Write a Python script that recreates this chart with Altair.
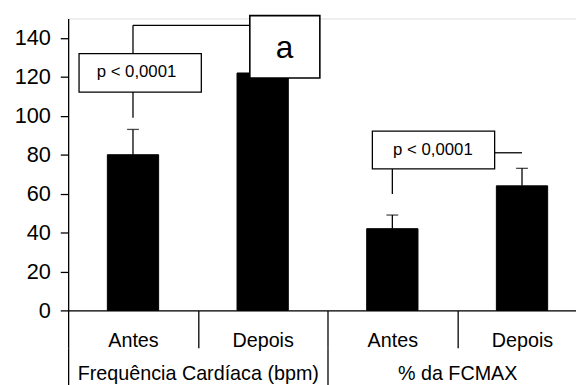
import altair as alt
import pandas as pd

# ---- data ----
groups = ["Frequência Cardíaca (bpm)", "Frequência Cardíaca (bpm)", "% da FCMAX", "% da FCMAX"]
conditions = ["Antes", "Depois", "Antes", "Depois"]
means = [80, 122, 42, 64]
upper = [93, 133, 49, 73]
group_names = ["Frequência Cardíaca (bpm)", "% da FCMAX"]

# annotation boxes (x in category units 0..4, y in data units)
pbox_x1 = [0.084, 2.346]
pbox_x2 = [1.027, 3.289]
pbox_y1 = [112.2, 72.7]
pbox_y2 = [131.9, 92.1]
ptext_x = [0.527, 2.813]
ptext_y = [122.5, 82.3]
ptext = ["p < 0,0001", "p < 0,0001"]

abox_x1 = [1.401]
abox_x2 = [1.941]
abox_y1 = [119.4]
abox_y2 = [151.5]
atext_x = [1.668]
atext_y = [135.0]
atext = ["a"]

seg_x1 = [0.5, 0.5, 0.5, 2.5, 3.289]
seg_x2 = [0.5, 0.5, 1.401, 2.5, 3.5]
seg_y1 = [99.0, 131.9, 146.5, 59.8, 81.0]
seg_y2 = [112.2, 146.5, 146.5, 72.7, 81.0]

ids = [g + "|" + c for g, c in zip(groups, conditions)]
bars_df = pd.DataFrame({"id": ids, "mean": means, "upper": upper})
grp_df = pd.DataFrame({"grp": group_names})
pbox_df = pd.DataFrame({"x1": pbox_x1, "x2": pbox_x2, "y1": pbox_y1, "y2": pbox_y2})
ptext_df = pd.DataFrame({"x": ptext_x, "y": ptext_y, "t": ptext})
abox_df = pd.DataFrame({"x1": abox_x1, "x2": abox_x2, "y1": abox_y1, "y2": abox_y2})
atext_df = pd.DataFrame({"x": atext_x, "y": atext_y, "t": atext})
seg_df = pd.DataFrame({"x1": seg_x1, "x2": seg_x2, "y1": seg_y1, "y2": seg_y2})

RANGE = [0, 526]
FONT = "Liberation Sans"

yscale = alt.Scale(domain=[0, 150], nice=False)
yaxis = alt.Axis(values=[0, 20, 40, 60, 80, 100, 120, 140], title=None, grid=False,
                 tickSize=8, labelPadding=10, labelFontSize=22, labelColor="black",
                 domainColor="black", tickColor="black", domainWidth=1.3, tickWidth=1.3,
                 labelFont=FONT)

band = alt.Scale(domain=ids, range=RANGE, paddingInner=0, paddingOuter=0)
quant = alt.Scale(domain=[0, 4], range=RANGE, nice=False, zero=False)
gband = alt.Scale(domain=group_names, range=RANGE, paddingInner=0, paddingOuter=0)

xaxis = alt.Axis(title=None, tickBand="extent", tickSize=38, labelPadding=-17,
                 labelFontSize=20, labelColor="black", labelFont=FONT, labelLimit=0,
                 labelExpr="split(datum.label, '|')[1]", labelAngle=0,
                 domainColor="black", tickColor="black", domainWidth=1.3, tickWidth=1.3)

bars = alt.Chart(bars_df).mark_bar(width=52, color="black", stroke="black").encode(
    x=alt.X("id:N", scale=band, axis=xaxis, sort=ids),
    y=alt.Y("mean:Q", scale=yscale, axis=yaxis),
)
err_rule = alt.Chart(bars_df).mark_rule(color="black", strokeWidth=1.3).encode(
    x=alt.X("id:N", scale=band, axis=None, sort=ids),
    y=alt.Y("mean:Q", scale=yscale, axis=yaxis),
    y2="upper:Q",
)
err_cap = alt.Chart(bars_df).mark_tick(color="black", size=12, thickness=1.3).encode(
    x=alt.X("id:N", scale=band, axis=None, sort=ids),
    y=alt.Y("upper:Q", scale=yscale, axis=yaxis),
)

gaxis = alt.Axis(title=None, orient="bottom", offset=38, tickBand="extent", tickSize=40,
                 labelPadding=-24, labelFontSize=20, labelColor="black", labelFont=FONT,
                 labelLimit=0, labelAngle=0, domain=False, tickColor="black", tickWidth=1.3)
grp = alt.Chart(grp_df).mark_point(opacity=0).encode(
    x=alt.X("grp:N", scale=gband, axis=gaxis, sort=group_names),
    y=alt.value(0),
)

segs = alt.Chart(seg_df).mark_rule(color="black", strokeWidth=1.3).encode(
    x=alt.X("x1:Q", scale=quant, axis=None),
    x2="x2:Q",
    y=alt.Y("y1:Q", scale=yscale, axis=yaxis),
    y2="y2:Q",
)
pbox = alt.Chart(pbox_df).mark_rect(fill="white", stroke="black", strokeWidth=1.3).encode(
    x=alt.X("x1:Q", scale=quant, axis=None),
    x2="x2:Q",
    y=alt.Y("y1:Q", scale=yscale, axis=yaxis),
    y2="y2:Q",
)
ptxt = alt.Chart(ptext_df).mark_text(fontSize=17, font=FONT, color="black",
                                      align="center", baseline="middle").encode(
    x=alt.X("x:Q", scale=quant, axis=None),
    y=alt.Y("y:Q", scale=yscale, axis=yaxis),
    text="t:N",
)
abox = alt.Chart(abox_df).mark_rect(fill="white", stroke="black", strokeWidth=1.6).encode(
    x=alt.X("x1:Q", scale=quant, axis=None),
    x2="x2:Q",
    y=alt.Y("y1:Q", scale=yscale, axis=yaxis),
    y2="y2:Q",
)
atxt = alt.Chart(atext_df).mark_text(fontSize=32, font=FONT, color="black",
                                      align="center", baseline="middle").encode(
    x=alt.X("x:Q", scale=quant, axis=None),
    y=alt.Y("y:Q", scale=yscale, axis=yaxis),
    text="t:N",
)

chart = alt.layer(bars, err_rule, err_cap, grp, segs, pbox, ptxt, abox, atxt).resolve_scale(
    x="independent"
).properties(
    width=515,
    height=296,
    autosize=alt.AutoSizeParams(type="none"),
    padding={"left": 61, "top": 8, "right": 0, "bottom": 73},
    background="white",
).configure_view(stroke=None).configure(font=FONT)

chart.save("out.html", embed_options={"renderer": "svg", "actions": False})
